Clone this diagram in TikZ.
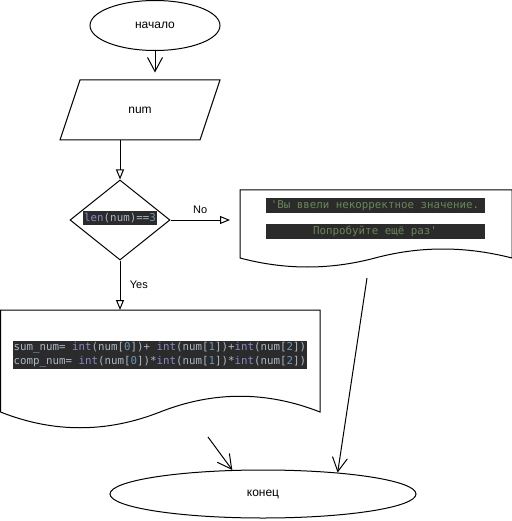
\documentclass[tikz,border=0pt]{standalone}
\usepackage{fontspec}
\setmainfont{Liberation Sans}
\newfontfamily\codefont{DejaVu Sans Mono}
\usetikzlibrary{arrows.meta,shapes.geometric}
\definecolor{codebg}{HTML}{2B2B2B}
\definecolor{codefg}{HTML}{A9B7C6}
\definecolor{codekw}{HTML}{8888C6}
\definecolor{codenum}{HTML}{6897BB}
\definecolor{codestr}{HTML}{6A8759}
\newcommand\kw[1]{\textcolor{codekw}{#1}}
\newcommand\numc[1]{\textcolor{codenum}{#1}}

\begin{document}
\begin{tikzpicture}[x=1pt,y=-1pt,line width=1pt,font=\fontsize{12}{14}\selectfont,
    term/.style={draw,ellipse,inner sep=0pt},
    code/.style={fill=codebg,text=codefg,font=\codefont\fontsize{10.8}{13.5}\selectfont,inner xsep=1pt,inner ysep=2pt},
    lbl/.style={font=\fontsize{11}{13}\selectfont},
    openv/.style={-{Straight Barb[length=14pt,width=15pt]}},
    opentri/.style={-{Triangle[open,length=10pt,width=8pt]}}]
  \useasboundingbox (0,0) rectangle (511,521);
  % start and input
  \node[term,minimum width=130pt,minimum height=50pt] (start) at (155,25.5) {начало};
  \draw (80,80) -- (220,80) -- (200,140) -- (60,140) -- cycle;
  \node[minimum width=140pt,minimum height=60pt] (in) at (140,110) {num};
  \draw[openv,shorten >=7pt] (start.south) -- (start.south |- in.north);
  % condition
  \node[draw,diamond,minimum width=100pt,minimum height=80pt,inner sep=0pt] (cond) at (120,220) {};
  \node[code] (condtxt) at (120,218) {\kw{len}(num)==\numc{3}};
  \draw[opentri] (in.south -| cond.north) -- (cond.north);
  % error message
  \draw (240,190) -- (512,190) -- (512,258) .. controls (465,246) and (420,246) .. (375,258)
    .. controls (330,270) and (285,270) .. (240,258) -- cycle;
  \node[code,text=codestr,minimum width=219pt] (msg1) at (375,205.5) {'Вы ввели некорректное значение.};
  \node[code,text=codestr,minimum width=219pt] (msg2) at (375,231.5) {Попробуйте ещё раз'};
  \coordinate (err) at (240,220);
  \coordinate (errout) at (367,278);
  \draw[opentri,shorten >=10pt] (cond.east) -- (err) node[lbl,midway,above=3pt,xshift=-5pt] {No};
  % calculation
  \draw (0.5,310) -- (320,310) -- (320,412) .. controls (266.7,391) and (213.3,391) .. (160,412)
    .. controls (106.7,433) and (53.3,433) .. (0.5,412) -- cycle;
  \node[code,anchor=north west,align=left] (calctxt) at (12,340)
    {sum\_num= \kw{int}(num[\numc{0}])+ \kw{int}(num[\numc{1}])+\kw{int}(num[\numc{2}])\\
     comp\_num= \kw{int}(num[\numc{0}])*\kw{int}(num[\numc{1}])*\kw{int}(num[\numc{2}])};
  \coordinate (calc) at (120,310);
  \coordinate (calcout) at (208,437);
  \draw[opentri] (cond.south) -- (calc) node[lbl,midway,right=6pt] {Yes};
  % end
  \node[term,minimum width=306pt,minimum height=48pt] (stop) at (263,494) {конец};
  \draw[openv] (calcout) -- (stop.142);
  \draw[openv] (errout) -- (stop.16);
\end{tikzpicture}
\end{document}
